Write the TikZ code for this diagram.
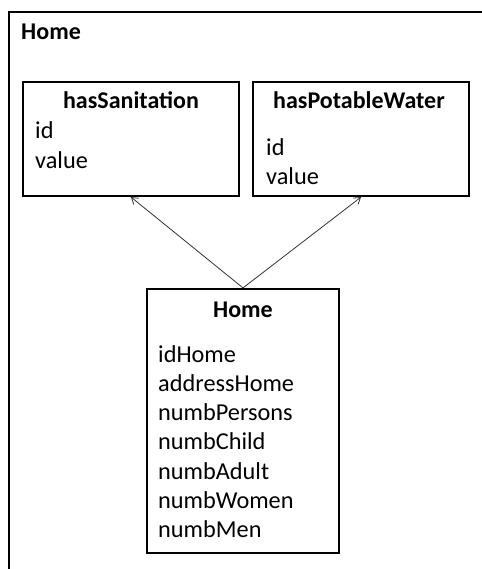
\documentclass[tikz,border=0pt]{standalone}
\usepackage{fontspec}
\setmainfont{Carlito}
\usetikzlibrary{arrows.meta}
\tikzset{
  box/.style={draw=black, line width=2.2pt, fill=white, inner sep=0pt},
  title/.style={font=\fontsize{24}{28}\selectfont\bfseries, anchor=base, inner sep=0pt},
  attr/.style={font=\fontsize{24.3}{28}\selectfont, anchor=base west, inner sep=0pt},
  link/.style={draw=black!80, line width=0.8pt, -{Straight Barb[length=6pt,width=8pt]}},
}
\begin{document}
\begin{tikzpicture}[x=1pt,y=-1pt]
\useasboundingbox (0,0) rectangle (481,569);
% outer frame (cut off at right and bottom)
\coordinate (fbl) at (9,570);
\coordinate (ftl) at (9,12);
\coordinate (ftr) at (482,12);
\draw[line width=2.2pt] (fbl) -- (ftl) -- (ftr);
\node[attr, font=\fontsize{24}{28}\selectfont\bfseries] (frametitle) at (21,40) {Home};
% boxes
\node[box, minimum width=216pt, minimum height=114pt] (san) at (131,139) {};
\node[box, minimum width=216pt, minimum height=114pt] (pot) at (361,139) {};
\node[box, minimum width=192pt, minimum height=264pt] (home) at (243,421) {};
% hasSanitation
\node[title] (santitle) at (131,109) {hasSanitation};
\node[attr] (sanid) at (35,139) {id};
\node[attr] (sanval) at (35,169) {value};
% hasPotableWater
\node[title] (pottitle) at (359,109) {hasPotableWater};
\node[attr] (potid) at (266,156) {id};
\node[attr] (potval) at (266,185) {value};
% Home
\node[title] (hometitle) at (243,317) {Home};
\node[attr] (a1) at (158,362) {idHome};
\node[attr] (a2) at (158,391.3) {addressHome};
\node[attr] (a3) at (158,420.6) {numbPersons};
\node[attr] (a4) at (158,449.9) {numbChild};
\node[attr] (a5) at (158,479.2) {numbAdult};
\node[attr] (a6) at (158,508.5) {numbWomen};
\node[attr] (a7) at (158,537.8) {numbMen};
% connectors
\draw[link] (home.north) -- (san.south);
\draw[link] (home.north) -- (pot.south);
\end{tikzpicture}
\end{document}
